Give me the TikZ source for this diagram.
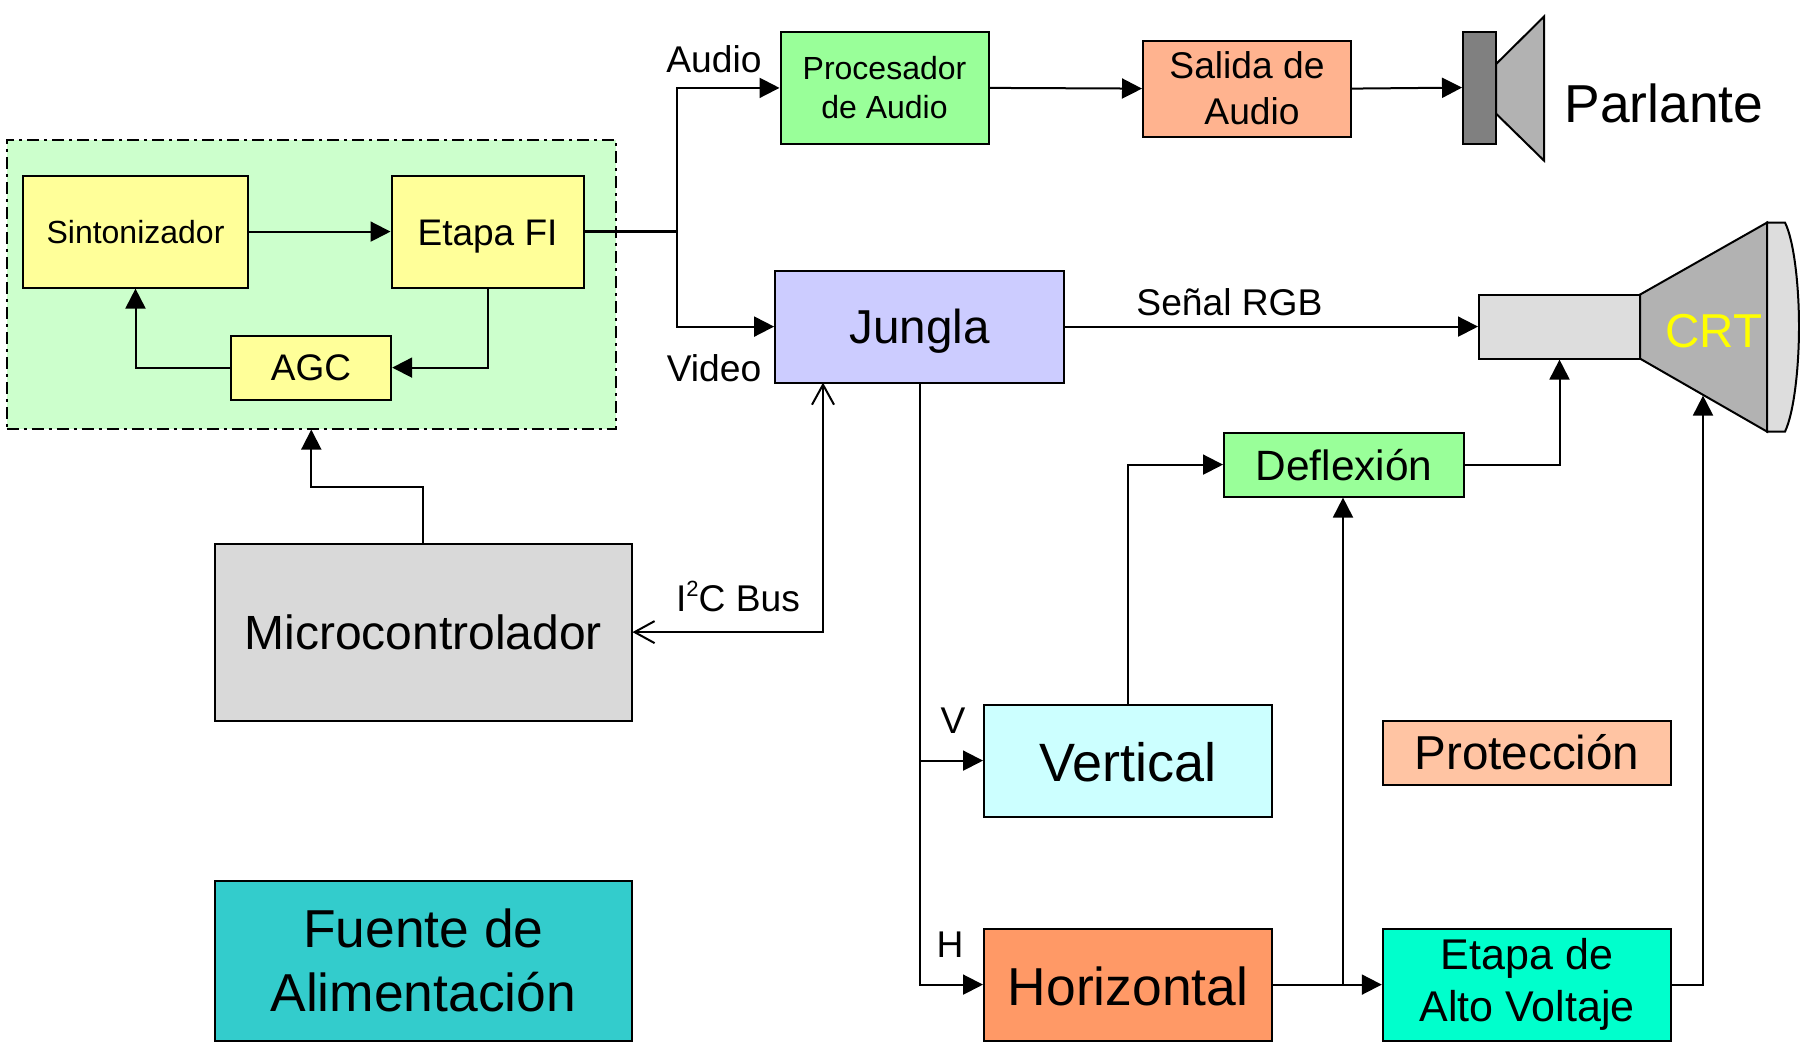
\documentclass[tikz,border=0pt]{standalone}
\usepackage{fontspec}
\setmainfont{Liberation Sans}
\usetikzlibrary{arrows.meta}
\newcommand{\fs}[2][]{\fontsize{#2}{#1}\selectfont}
\newcommand{\fsb}[2]{\fontsize{#1}{#2}\selectfont}
\tikzset{
  box/.style={draw=black,line width=1pt,rectangle,inner sep=0pt,align=center,text=black},
  conn/.style={draw=black,line width=1pt},
  arr/.style={conn,-{Triangle[length=10pt,width=10pt]}},
  barbs/.style={conn,{Straight Barb[length=10pt,width=11pt,line width=1pt]}-{Straight Barb[length=10pt,width=11pt,line width=1pt]}},
  lbl/.style={inner sep=0pt,font=\fsb{18.6}{22},text=black},
  shapeline/.style={draw=black,line width=1pt,line join=miter},
}
\begin{document}
\begin{tikzpicture}[x=0.5pt,y=-0.5pt]
\useasboundingbox (0,-0.6) rectangle (1800,1048.4);
% tuner group
\node[box,fill={rgb,255:red,204;green,255;blue,204},dash pattern=on 6pt off 2.5pt on 1.5pt off 2.5pt,minimum width=304.6pt,minimum height=144.5pt] (group) at (311.3,283.5) {};
\node[box,fill={rgb,255:red,255;green,255;blue,153},minimum width=112.5pt,minimum height=56pt,font=\fsb{16}{19}] (sint) at (135.5,231) {Sintonizador};
\node[box,fill={rgb,255:red,255;green,255;blue,153},minimum width=96pt,minimum height=56pt,font=\fsb{18.5}{22},text depth=0pt,text height=14pt] (etapa) at (487.5,231) {Etapa FI};
\node[box,fill={rgb,255:red,255;green,255;blue,153},minimum width=80.2pt,minimum height=32pt,font=\fsb{18.5}{22}] (agc) at (311,367) {AGC};
% audio
\node[box,fill={rgb,255:red,153;green,255;blue,153},minimum width=104pt,minimum height=56.2pt,font=\fsb{16}{19.5}] (proc) at (884.5,87.3) {Procesador\\de Audio};
\node[box,fill={rgb,255:red,255;green,179;blue,143},minimum width=104pt,minimum height=48pt,font=\fsb{18.6}{23}] (sal) at (1247,88) {Salida de\\\hspace*{5pt}Audio};
\node[box,fill={rgb,255:red,128;green,128;blue,128},minimum width=16.5pt,minimum height=56pt] (spk) at (1479.5,87) {};
\draw[shapeline,fill={rgb,255:red,178;green,178;blue,178}] (1496,63.5) -- (1544,16) -- (1544,160) -- (1496,113) -- cycle;
\node[lbl,font=\fsb{26.7}{32},anchor=base west] (parl) at (1564,122) {Parlante};
% video
\node[box,fill={rgb,255:red,204;green,204;blue,255},minimum width=144.5pt,minimum height=56pt,font=\fsb{23.8}{28},text depth=0pt] (jungla) at (919.6,326) {Jungla};
% CRT
\node[box,fill={rgb,255:red,221;green,221;blue,221},minimum width=80.5pt,minimum height=32pt] (neck) at (1559.5,326) {};
\draw[shapeline,fill={rgb,255:red,178;green,178;blue,178}] (1640,294) -- (1767,222) -- (1767,431) -- (1640,358) -- cycle;
\draw[shapeline,fill={rgb,255:red,221;green,221;blue,221}] (1767,222) -- (1785,222) .. controls (1794,240) and (1799,285) .. (1799,326) .. controls (1799,367) and (1794,412) .. (1785,431) -- (1767,431) -- cycle;
\node[lbl,font=\fsb{23.8}{28},text={rgb,255:red,255;green,255;blue,0},anchor=base west] (crt) at (1665,347) {CRT};
\coordinate (crtin) at (1703,395);
% deflection etc
\node[box,fill={rgb,255:red,153;green,255;blue,153},minimum width=120pt,minimum height=32pt,font=\fsb{21.2}{25}] (defl) at (1344,464) {Deflexión};
\node[box,fill={rgb,255:red,204;green,255;blue,255},minimum width=144pt,minimum height=56pt,font=\fsb{27}{32},text height=21pt] (vert) at (1128,760) {Vertical};
\node[box,fill={rgb,255:red,255;green,196;blue,163},minimum width=144.2pt,minimum height=32pt,font=\fsb{23.8}{28}] (prot) at (1527,752) {Protección};
\node[box,fill={rgb,255:red,255;green,153;blue,102},minimum width=144pt,minimum height=56pt,font=\fsb{26.7}{32},text height=21pt] (horiz) at (1128,984) {Horizontal};
\node[box,fill={rgb,255:red,0;green,255;blue,204},minimum width=144.2pt,minimum height=56pt,font=\fsb{21.5}{26}] (alto) at (1527,984) {Etapa de\\Alto Voltaje};
\node[box,fill={rgb,255:red,217;green,217;blue,217},minimum width=208.2pt,minimum height=88.5pt,font=\fsb{24}{28}] (micro) at (423.3,631.5) {Microcontrolador};
\node[box,fill={rgb,255:red,51;green,204;blue,204},minimum width=208.2pt,minimum height=80pt,font=\fsb{26.7}{32}] (fuente) at (423.3,960) {Fuente de\\Alimentación};
% labels
\node[lbl] (laudio) at (714,59) {Audio};
\node[lbl] (lvideo) at (714,368) {Video};
\node[lbl] (li2c) at (738,596) {I\raisebox{0.4em}{\fontsize{11}{11}\selectfont 2}C Bus};
\node[lbl] (lv) at (953,720) {V};
\node[lbl] (lh) at (950,944) {H};
\node[lbl] (lrgb) at (1229.5,302) {Señal RGB};
% connectors
\coordinate (br) at (677,231);
\coordinate (hbr) at (1343,984);
\coordinate (up) at (423.3,486);
\coordinate (i2c) at (823,382);
\draw[arr] (sint) -- (etapa);
\draw[arr] (etapa.south) |- (agc.east);
\draw[arr] (agc.west) -| (sint.south);
\draw[conn,line width=1.4pt] (etapa.east) -- (br);
\draw[arr] (br) |- (proc.west);
\draw[arr] (br) |- (jungla.west);
\draw[arr] (proc.east) -- (sal.west);
\draw[arr] (sal.east) -- (spk.west);
\draw[arr] (jungla.east) -- (neck.west);
\draw[barbs] (micro.east) -| (i2c);
\draw[arr] (micro.north) -- (up) -| (group.south);
\draw[arr] (jungla.south) |- (vert.west);
\draw[arr] (jungla.south) |- (horiz.west);
\draw[arr] (vert.north) |- (defl.west);
\draw[arr] (defl.east) -| (neck.south);
\draw[arr] (horiz.east) -- (alto.west);
\draw[arr] (hbr) -- (hbr |- defl.south);
\draw[arr] (alto.east) -| (crtin);
\end{tikzpicture}
\end{document}
